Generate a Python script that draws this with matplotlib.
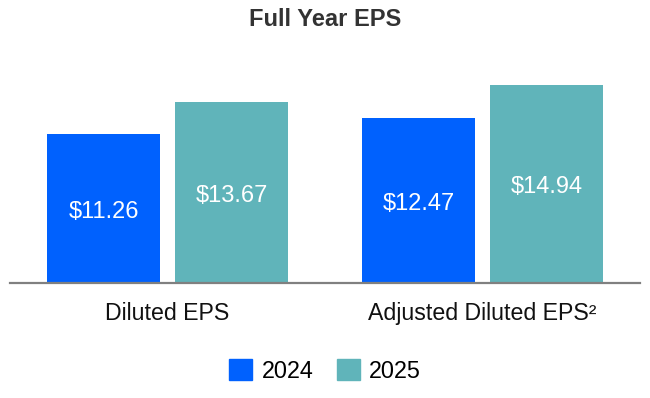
import matplotlib
matplotlib.use("Agg")
import matplotlib.pyplot as plt
from matplotlib.patches import Patch
import numpy as np

plt.rcParams['font.family'] = ['Liberation Sans', 'DejaVu Sans']

categories = ["Diluted EPS", "Adjusted Diluted EPS²"]
years = ["2024", "2025"]
eps_2024 = [11.26, 12.47]
eps_2025 = [13.67, 14.94]

colors = ["#0061FE", "#60B4BA"]

fig = plt.figure(figsize=(6.5, 3.98), dpi=100)
ax = fig.add_axes([10 / 650, 115 / 398, 630 / 650, 213 / 398])

x = np.arange(len(categories))
width = 0.36
offset = 0.203

for vals, off, col in [(eps_2024, -offset, colors[0]), (eps_2025, offset, colors[1])]:
    bars = ax.bar(x + off, vals, width, color=col, zorder=2)
    for b, v in zip(bars, vals):
        # labels sit a touch below the bar midpoint
        ax.text(b.get_x() + b.get_width() / 2, v / 2 - 0.25, f"${v:.2f}",
                ha="center", va="center", color="white", fontsize=17)

ax.set_xlim(-0.5, 1.5)
ax.set_ylim(0, 213 / 13.24)
ax.set_xticks(x)
ax.set_xticklabels(categories, fontsize=16.7, color="#111111")
ax.tick_params(axis="x", length=0, pad=14)
ax.set_yticks([])
for s in ["top", "right", "left"]:
    ax.spines[s].set_visible(False)
ax.spines["bottom"].set_color("#808080")
ax.spines["bottom"].set_linewidth(1.6)

fig.text(0.5, 1 - 20 / 398, "Full Year EPS", ha="center", va="center",
         fontsize=17, fontweight="bold", color="#333333")

handles = [Patch(color=c, label=y) for c, y in zip(colors, years)]
fig.legend(handles=handles, loc="center", bbox_to_anchor=(0.5, 1 - 371 / 398),
           ncol=2, frameon=False, fontsize=16.8, handlelength=1.0, handleheight=1.0,
           handletextpad=0.4, columnspacing=1.0)

fig.savefig("out.png", dpi=100)
